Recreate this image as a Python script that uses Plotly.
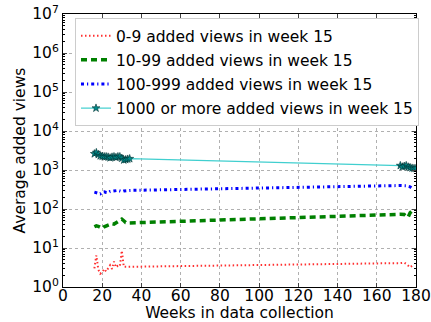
import plotly.graph_objects as go

weeks_early = list(range(16, 35))
weeks_late = list(range(172, 179))
weeks_late_1000 = list(range(172, 181))

views_0_9 = [3.0, 6.5, 2.8, 2.2, 2.4, 2.9, 2.5, 3.0, 3.6, 2.9, 4.5, 3.2, 3.5, 3.4, 8.5, 3.3, 3.3, 3.3, 3.3] + \
            [4.1, 4.1, 4.2, 3.9, 3.6, 3.2, 3.5]
views_10_99 = [35, 37, 36, 33, 32, 35, 37, 38, 40, 42, 41, 44, 48, 52, 55, 50, 45, 44, 44] + \
              [73, 74, 72, 65, 62, 80, 90]
views_100_999 = [270, 265, 250, 245, 270, 275, 265, 260, 280, 285, 290, 285, 300, 290, 280, 290, 295, 300, 300] + \
                [400, 400, 405, 395, 380, 370, 340]
views_1000 = [2600, 2800, 2500, 2300, 2250, 2200, 2200, 2150, 2050, 2150, 2200, 2100, 2200, 2200, 2000, 1800, 1850, 1900, 1950] + \
             [1300, 1200, 1250, 1300, 1200, 1150, 1120, 1100, 1100]

labels = ["0-9 added views in week 15", "10-99 added views in week 15",
          "100-999 added views in week 15", "1000 or more added views in week 15"]

y_tickvals = [10 ** k for k in range(0, 8)]
y_ticktext = ["10<sup>%d</sup>" % k for k in range(0, 8)]
x_tickvals = list(range(0, 181, 20))

font = "DejaVu Sans, Liberation Sans, sans-serif"
fs = 15.5

fig = go.Figure()
fig.add_trace(go.Scatter(x=weeks_early + weeks_late, y=views_0_9, mode="lines", name=labels[0],
                         legendgroup="a", line=dict(color="#ff3030", width=2, dash="1.5px,2.5px")))
fig.add_trace(go.Scatter(x=weeks_early + weeks_late, y=views_10_99, mode="lines", name=labels[1],
                         legendgroup="b", line=dict(color="#008000", width=3.5, dash="6px,4px")))
fig.add_trace(go.Scatter(x=weeks_early + weeks_late, y=views_100_999, mode="lines", name=labels[2],
                         legendgroup="c", line=dict(color="#0000ff", width=3, dash="3px,3px,1.2px,3px")))
fig.add_trace(go.Scatter(x=weeks_early + weeks_late_1000, y=views_1000, mode="lines+markers", name=labels[3],
                         legendgroup="d", line=dict(color="#40cfcf", width=1.2),
                         marker=dict(symbol="star", size=6, color="#008b8b",
                                     line=dict(color="#003030", width=0.6))))

minor_vals = [m * 10 ** k for k in range(0, 7) for m in range(2, 10)]

fig.update_layout(
    width=431, height=322,
    margin=dict(l=63, r=12, t=14, b=35),
    paper_bgcolor="white", plot_bgcolor="white",
    font=dict(family=font, size=fs, color="black"),
    showlegend=True,
    legend=dict(x=0.034, y=0.985, xanchor="left", yanchor="top",
                bgcolor="white", bordercolor="#cccccc", borderwidth=1,
                font=dict(size=fs), tracegroupgap=1),
    xaxis=dict(range=[0, 180], tickvals=x_tickvals, ticks="inside", ticklen=4,
               showline=True, linecolor="black", linewidth=1, mirror="ticks",
               showgrid=True, gridcolor="#b0b0b0", griddash="dot", gridwidth=1,
               zeroline=False, tickfont=dict(size=fs), automargin=False,
               ticklabeloverflow="allow", ticklabelstandoff=-6,
               title=dict(text="Weeks in data collection", standoff=0, font=dict(size=fs))),
    yaxis=dict(type="log", range=[0, 7], tickvals=y_tickvals, ticktext=y_ticktext,
               ticks="inside", ticklen=4, automargin=False, ticklabeloverflow="allow",
               showline=True, linecolor="black", linewidth=1, mirror="ticks",
               showgrid=True, gridcolor="#b0b0b0", griddash="dot", gridwidth=1,
               zeroline=False, tickfont=dict(size=fs),
               minor=dict(tickmode="array", tickvals=minor_vals, ticks="inside", ticklen=2,
                          tickcolor="black", showgrid=False),
               title=dict(text="Average added views", standoff=2, font=dict(size=fs))),
)

fig.write_html("out.html", config={"displayModeBar": False},
               post_script="document.body.style.margin='0';")
